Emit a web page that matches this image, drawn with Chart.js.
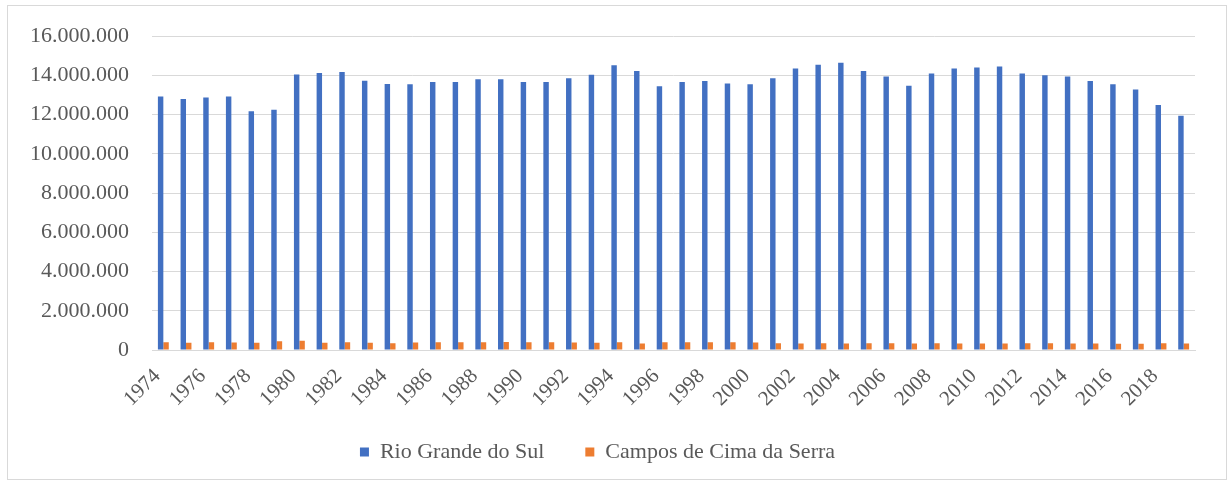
<!DOCTYPE html>
<html>
<head>
<meta charset="utf-8">
<script src="https://cdn.jsdelivr.net/npm/chart.js@4.4.1/dist/chart.umd.min.js"></script>
<style>
  html, body { margin: 0; padding: 0; background: #ffffff; }
  #wrap { width: 1232px; height: 485px; position: relative; }
</style>
</head>
<body>
<div id="wrap"><canvas id="c" width="1232" height="485"></canvas></div>
<script>
const years = ['1974','1975','1976','1977','1978','1979','1980','1981','1982','1983',
  '1984','1985','1986','1987','1988','1989','1990','1991','1992','1993',
  '1994','1995','1996','1997','1998','1999','2000','2001','2002','2003',
  '2004','2005','2006','2007','2008','2009','2010','2011','2012','2013',
  '2014','2015','2016','2017','2018','2019'];

const rioGrandeDoSul = [12930000,12800000,12870000,12930000,12170000,12250000,14050000,14130000,14180000,13730000,
  13560000,13550000,13670000,13670000,13800000,13800000,13670000,13670000,13850000,14040000,
  14520000,14230000,13450000,13670000,13720000,13590000,13550000,13850000,14350000,14550000,
  14650000,14230000,13950000,13470000,14100000,14350000,14410000,14460000,14100000,14010000,
  13950000,13720000,13550000,13280000,12490000,11950000];

const camposDeCimaDaSerra = [400000,370000,400000,380000,370000,450000,470000,370000,390000,370000,
  350000,380000,400000,390000,400000,410000,400000,400000,380000,370000,
  390000,330000,400000,400000,390000,390000,380000,350000,330000,340000,
  330000,340000,350000,330000,340000,330000,330000,330000,340000,340000,
  330000,330000,320000,320000,340000,330000];

const yTicks = [0,2000000,4000000,6000000,8000000,10000000,12000000,14000000,16000000];
const seriesNames = ['Rio Grande do Sul','Campos de Cima da Serra'];

function fmtBR(v) {
  return String(Math.round(v)).replace(/\B(?=(\d{3})+(?!\d))/g, '.');
}

Chart.defaults.font.family = "'Liberation Serif', 'Times New Roman', serif";
Chart.defaults.color = '#595959';

const frame = {
  id: 'frame',
  beforeDraw(chart) {
    const ctx = chart.ctx;
    ctx.save();
    ctx.fillStyle = '#ffffff';
    ctx.fillRect(0, 0, chart.width, chart.height);
    ctx.strokeStyle = '#d9d9d9';
    ctx.lineWidth = 1;
    ctx.strokeRect(7.5, 5.5, 1219, 474);
    ctx.restore();
  }
};

new Chart(document.getElementById('c'), {
  type: 'bar',
  data: {
    labels: years,
    datasets: [
      { label: seriesNames[0], data: rioGrandeDoSul, backgroundColor: '#4270C2',
        categoryPercentage: 0.48, barPercentage: 1.0 },
      { label: seriesNames[1], data: camposDeCimaDaSerra, backgroundColor: '#ED7D31',
        categoryPercentage: 0.48, barPercentage: 1.0 }
    ]
  },
  options: {
    responsive: false,
    animation: false,
    devicePixelRatio: 1,
    layout: { padding: { left: 0, right: 37, top: 34, bottom: 12 } },
    plugins: {
      legend: {
        position: 'bottom',
        labels: {
          boxWidth: 9, boxHeight: 9, padding: 41,
          font: { size: 22 }, color: '#595959'
        }
      },
      tooltip: { enabled: false }
    },
    scales: {
      x: {
        grid: { display: false, drawTicks: false },
        border: { display: true, color: '#d9d9d9' },
        ticks: {
          autoSkip: false, minRotation: 45, maxRotation: 45, padding: 14,
          labelOffset: -6,
          font: { size: 21 }, color: '#595959',
          callback: (v, i) => (i % 2 === 0 ? years[i] : '')
        },
        afterFit(scale) {
          scale.height = 50;
          scale._computeLabelArea = () => undefined;
        }
      },
      y: {
        min: 0, max: 16000000,
        afterBuildTicks(scale) { scale.ticks = yTicks.map(v => ({ value: v })); },
        grid: { color: '#d9d9d9', drawTicks: false },
        border: { display: false },
        ticks: {
          padding: 23, font: { size: 22 }, color: '#595959',
          callback: v => fmtBR(v)
        },
        afterFit(scale) { scale.width = 152; }
      }
    }
  },
  plugins: [frame]
});
</script>
</body>
</html>
